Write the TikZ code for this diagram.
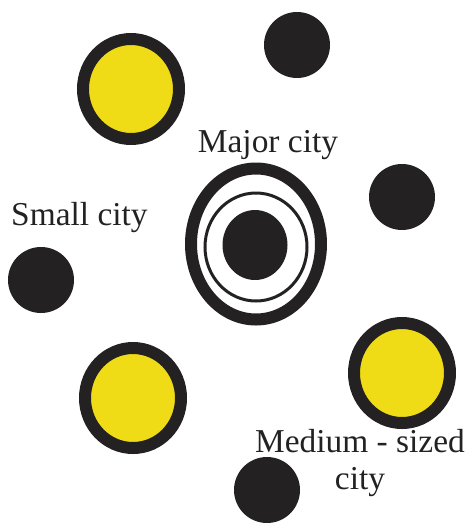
\documentclass[tikz,border=0pt]{standalone}
\usepackage{fontspec}
\setmainfont{Liberation Serif}
\usetikzlibrary{shapes.geometric}
\definecolor{citydark}{RGB}{35,33,34}
\definecolor{cityyellow}{RGB}{240,220,22}

\begin{document}
\begin{tikzpicture}[x=1pt,y=-1pt,
  small/.style={circle,fill=citydark,minimum size=66pt,inner sep=0pt},
  medium/.style={ellipse,draw=citydark,line width=12pt,fill=cityyellow,
    minimum width=96pt,minimum height=100pt,inner sep=0pt},
  label/.style={font=\fontsize{33.4}{37}\selectfont,text=citydark,inner sep=0pt}]
  \useasboundingbox (0,0) rectangle (468,528);
  % major city
  \node[ellipse,draw=citydark,line width=12pt,minimum width=130pt,
    minimum height=151pt,inner sep=0pt] (major) at (256,244){};
  \node[ellipse,draw=citydark,line width=3pt,minimum width=102pt,
    minimum height=108pt,inner sep=0pt] (majorring) at (256,247){};
  \node[ellipse,fill=citydark,minimum width=65pt,minimum height=70pt,
    inner sep=0pt] (majorcore) at (255,245){};
  % medium-sized cities
  \foreach \x/\y[count=\i] in {131/89,133/398,402/373}
  {\node[medium] (medium\i) at (\x,\y){};}
  % small cities
  \foreach \x/\y[count=\i] in {297/45,402/197,41/280,267/490}
  {\node[small] (small\i) at (\x,\y){};}
  \node[label,anchor=base] (majorlabel) at (268,152){Major city};
  \node[label,anchor=base west] (smalllabel) at (11,225){Small city};
  \node[label,align=center] (mediumlabel) at (360,463.5){Medium - sized\\city};
\end{tikzpicture}
\end{document}
